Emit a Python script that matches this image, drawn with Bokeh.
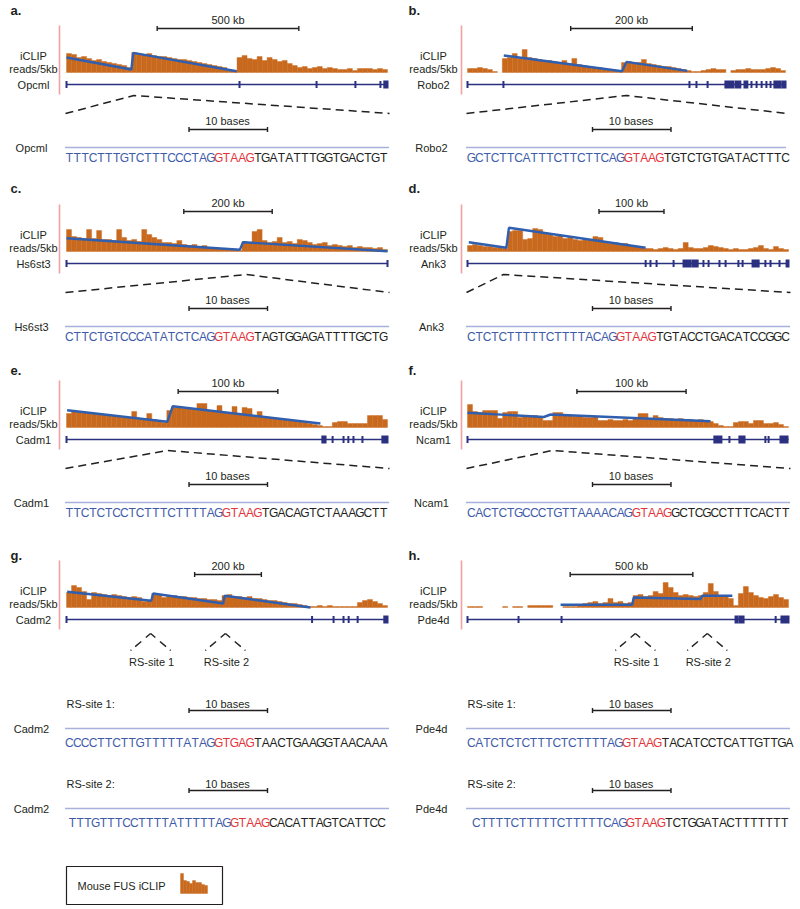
from bokeh.plotting import figure
from bokeh.models import Range1d
from bokeh.embed import file_html
from bokeh.resources import INLINE
from bokeh.core.properties import value

# ---------------- data ----------------
panel_ids = ["a", "b", "c", "d", "e", "f", "g", "h"]
gene_names = ["Opcml", "Robo2", "Hs6st3", "Ank3", "Cadm1", "Ncam1", "Cadm2", "Pde4d"]
span_kb = [1133, 523, 726, 494, 322, 294, 962, 1308]   # genomic span shown in each track
scale_kb = [500, 200, 200, 100, 100, 100, 200, 500]    # scale-bar size

# iCLIP reads/5kb (64 bins across each gene track)
reads_a = [19, 18, 15, 16, 14, 12, 13, 11, 10, 9, 8, 7, 5,
           20, 19, 18, 19, 17, 16, 16, 15, 14, 13, 13, 12, 11, 10, 9, 8, 7, 6, 5, 3, 2,
           15, 17, 14, 13, 16, 12, 15, 13, 11, 12, 9,
           7, 5, 6, 4, 5, 6, 4, 5, 4, 3, 3, 4,
           2, 4, 4, 4, 3, 4, 3]
reads_b = [4, 4, 5, 4, 3, 1, 0,
           14, 15, 19, 14, 23, 15, 14, 13, 12, 12, 11, 10, 12, 9, 14, 8, 7, 6, 5, 5, 4, 3, 2, 1,
           10, 11, 9, 10, 13, 9, 8, 7, 6, 6, 5, 4, 3, 2,
           1, 1, 2, 3, 4, 3, 3, 0, 2, 3, 3, 4, 3, 3, 3, 4, 5, 4, 2]
reads_c = [22, 15, 14, 13, 22, 13, 21, 12, 12, 11, 22, 14, 11, 12, 10, 22, 17, 14, 12, 9,
           9, 8, 11, 7, 6, 7, 5, 6, 4, 4, 3, 3, 2, 2, 1,
           10, 9, 20, 22, 11, 9, 10, 14, 9, 10, 8, 12, 11, 9, 7, 8, 9, 6, 7, 6, 5, 6, 4, 5,
           4, 4, 3, 4, 2]
reads_d = [6, 7, 6, 5, 5, 4, 4, 3,
           20, 21, 21, 12, 13, 23, 22, 19, 17, 15, 16, 13, 14, 12, 11, 13, 12, 15, 14, 10,
           8, 9, 7, 8, 6, 5, 4, 3,
           3, 2, 3, 4, 3, 2, 3, 9, 4, 3, 3, 4, 6, 5, 4, 3, 2, 3, 2, 2, 3, 4, 6, 3, 2, 5, 3, 2]
reads_e = [14, 17, 16, 15, 15, 14, 14, 13, 12, 12, 11, 10, 10, 16, 9, 8, 14, 8, 7, 5, 17,
           20, 20, 19, 19, 19, 24, 24, 17, 16, 22, 15, 14, 21, 14, 20, 19, 12, 16, 11, 10,
           9, 9, 8, 8, 7, 6, 5, 4, 3, 2,
           1, 1, 5, 6, 6, 4, 4, 4, 4, 12, 12, 12, 8]
reads_f = [23, 16, 15, 17, 17, 17, 9, 15, 16, 16, 10, 12, 11, 12, 11, 7, 7, 15, 15, 12,
           12, 11, 12, 10, 10, 11, 7, 7, 8, 7, 7, 8, 7, 9, 14, 14, 9, 12, 10, 9,
           9, 8, 9, 8, 8, 7, 8, 7, 6, 4, 2, 1, 1, 5, 6, 6, 4, 7, 7, 4, 4, 5, 3, 1]
reads_g = [15, 22, 20, 16, 8, 15, 14, 13, 12, 13, 12, 11, 10, 11, 10, 6, 7,
           14, 13, 10, 12, 12, 11, 11, 10, 10, 9, 9, 8, 8, 7,
           12, 13, 11, 11, 10, 11, 9, 9, 8, 7, 7, 6, 5, 4, 4, 3, 2, 1,
           1, 2, 1, 2, 1, 1, 1, 1, 1, 5, 7, 8, 6, 4, 2]
reads_h = [1, 1, 1, 0, 0, 0, 0, 1, 0, 1, 1, 0, 2, 2, 2, 2, 2, 0,
           0, 1, 1, 1, 3,
           4, 5, 6, 4, 5, 9, 5, 6, 4, 5,
           12, 13, 11, 12, 16, 14, 25, 20, 15, 12, 13, 12, 11, 12, 15, 24, 16, 12, 11, 9,
           2,
           14, 21, 15, 12, 10, 9, 11, 13, 10, 8]
reads = [reads_a, reads_b, reads_c, reads_d, reads_e, reads_f, reads_g, reads_h]

# saw-tooth fit (position as fraction of track, reads)
fit_pos = [[0.0, 0.202, 0.208, 0.53],
           [0.114, 0.486, 0.5, 0.691],
           [0.0, 0.54, 0.55, 1.0],
           [0.004, 0.121, 0.129, 0.555],
           [0.002, 0.314, 0.331, 0.791],
           [0.0, 0.238, 0.259, 0.757],
           [0.002, 0.264, 0.27, 0.488, 0.493, 0.76],
           [0.29, 0.513, 0.518, 0.726, 0.731, 0.825]]
fit_reads = [[15, 3, 19.6, 1.3],
             [17, 1.3, 10.6, 1.6],
             [13.3, 1.7, 9.3, 0.3],
             [9.3, 3.7, 23.7, 3.7],
             [17.3, 5.7, 21.3, 4],
             [14.7, 10.5, 13, 6.3],
             [15.7, 6.7, 14, 4, 11.7, 0],
             [2.7, 2.7, 10, 8.5, 11.7, 11.7]]

# exons (start, end) as fraction of track
exons = [
    [(0, 0), (0.539, 0.539), (0.779, 0.779), (0.9, 0.9), (0.978, 0.978), (0.99, 1.0)],
    [(0, 0), (0.113, 0.113), (0.698, 0.698), (0.72, 0.72), (0.755, 0.755), (0.811, 0.836),
     (0.843, 0.858), (0.871, 0.88), (0.893, 0.893), (0.909, 0.909), (0.925, 0.925),
     (0.94, 0.94), (0.953, 0.953), (0.965, 0.984), (0.99, 1.0)],
    [(0, 0), (1, 1)],
    [(0, 0), (0.555, 0.555), (0.57, 0.57), (0.589, 0.589), (0.642, 0.642), (0.673, 0.695),
     (0.701, 0.717), (0.735, 0.735), (0.751, 0.751), (0.785, 0.785), (0.804, 0.804),
     (0.844, 0.844), (0.857, 0.857), (0.888, 0.907), (0.928, 0.928), (0.944, 0.944),
     (0.972, 0.972), (0.994, 1.0)],
    [(0, 0), (0.797, 0.807), (0.829, 0.829), (0.863, 0.863), (0.878, 0.878), (0.894, 0.894),
     (0.922, 0.922), (0.984, 1.0)],
    [(0, 0), (0.769, 0.791), (0.816, 0.816), (0.847, 0.863), (0.928, 0.928), (0.938, 0.938),
     (0.975, 0.997)],
    [(0, 0), (0.765, 0.765), (0.832, 0.832), (0.863, 0.863), (0.879, 0.879), (0.907, 0.907),
     (0.99, 1.0)],
    [(0, 0), (0.159, 0.159), (0.293, 0.293), (0.835, 0.841), (0.847, 0.86), (0.96, 0.96),
     (0.978, 1.0)],
]

# recursive splice sites (fraction of track)
rs_sites = [[0.21], [0.5], [0.56], [0.112], [0.315], [0.264], [0.262, 0.495], [0.523, 0.747]]

# sequences: (upstream intron, RS motif, downstream)
sequences = [
    [("TTTCTTTGTCTTTCCCTAG", "GTAAG", "TGATATTTGGTGACTGT")],
    [("GCTCTTCATTTCTTCTTCAG", "GTAAG", "TGTCTGTGATACTTTC")],
    [("CTTCTGTCCCATATCTCAG", "GTAAG", "TAGTGGAGATTTTGCTG")],
    [("CTCTCTTTTTCTTTTACAG", "GTAAG", "TGTACCTGACATCCGGC")],
    [("TTCTCTCCTCTTTCTTTTAG", "GTAAG", "TGACAGTCTAAAGCTT")],
    [("CACTCTGCCCTGTTAAAACAG", "GTAAG", "GCTCGCCTTTCACTT")],
    [("CCCCTTCTTGTTTTTATAG", "GTGAG", "TAACTGAAGGTAACAAA"),
     ("TTTGTTTCCTTTTATTTTTAG", "GTAAG", "CACATTAGTCATTCC")],
    [("CATCTCTCTTTCTCTTTTAG", "GTAAG", "TACATCCTCATTGTTGA"),
     ("CTTTTCTTTTTCTTTTTCAG", "GTAAG", "TCTGGATACTTTTTTT")],
]

legend_label = "Mouse FUS iCLIP"
legend_reads = [20, 13, 12, 10, 13, 11, 11, 9, 8]

# ---------------- style / layout ----------------
FONT = "Liberation Sans"
INK = "#231f20"
NAVY = "#2b3080"
ORANGE = "#c8691e"
FITBLUE = "#2f5fae"
PINK = "#f2a2a0"
SEQ_BLUE = "#3e5ba9"
SEQ_RED = "#e3343c"
DOTC = "#5360b8"

TRACK_X0 = [66, 467]
TRACK_X1 = [387, 785, 387, 788, 387, 788, 387, 788]
LABEL_CX = [33, 433]
PINK_X = [59, 461]
KB_CX = [227.5, 631]
TENB_X = [188.5, 592]
LETTER_X = [10, 408]
ROW_BASE = [72, 251, 427, 607]
ROW_KB = [28, 211, 391, 574]
ROW_LETTER = [10, 188, 370, 555]
PITCH = 7.85
SEQ_X = [[65], [467], [65], [467], [65], [467], [65, 68], [467, 472]]
SEQ_SPAN = [[322], [322], [322], [322], [322], [322], [322, 317], [326, 316]]

W, H = 800, 908
p = figure(width=W, height=H, x_range=Range1d(0, W), y_range=Range1d(H, 0),
           output_backend="svg", toolbar_location=None, min_border=0,
           x_axis_type=None, y_axis_type=None)
p.outline_line_color = None
p.background_fill_color = "white"
p.border_fill_color = "white"


def text(x, y, s, size=11, align="center", color=INK, bold=False):
    p.text(x=[x], y=[y], text=[s], text_font=value(FONT), text_font_size=f"{size}px",
           text_align=align, text_baseline="middle", text_color=color,
           text_font_style="bold" if bold else "normal")


def scalebar(xl, xr, y):
    p.segment(x0=[xl, xl, xr], y0=[y, y - 2.5, y - 2.5], x1=[xr, xl, xr], y1=[y, y + 2.5, y + 2.5],
              line_color=INK, line_width=1.4)


def sequence(x_start, span, y, up, site, down):
    chars = list(up + site + down)
    pitch = span / len(chars)
    colors = [SEQ_BLUE] * len(up) + [SEQ_RED] * len(site) + [INK] * len(down)
    xs = [x_start + (i + 0.5) * pitch for i in range(len(chars))]
    p.text(x=xs, y=[y] * len(chars), text=chars, text_color=colors, text_font=value(FONT),
           text_font_size="12px", text_align="center", text_baseline="middle")


for k in range(8):
    col = k % 2
    row = k // 2
    x0 = TRACK_X0[col]
    x1 = TRACK_X1[k]
    wpx = x1 - x0
    B = ROW_BASE[row]

    def X(f):
        return x0 + f * wpx

    text(LETTER_X[col], ROW_LETTER[row], panel_ids[k] + ".", size=13, align="left", bold=True)

    L = scale_kb[k] / span_kb[k] * wpx
    cx = KB_CX[col]
    scalebar(cx - L / 2, cx + L / 2, ROW_KB[row])
    text(cx, ROW_KB[row] - 9, f"{scale_kb[k]} kb")

    p.segment(x0=[PINK_X[col]], y0=[B - 47], x1=[PINK_X[col]], y1=[B + 22],
              line_color=PINK, line_width=1.6)

    text(LABEL_CX[col], B - 17, "iCLIP")
    text(LABEL_CX[col], B - 4, "reads/5kb")
    text(LABEL_CX[col], B + 12, gene_names[k])

    r = reads[k]
    n = len(r)
    bw = wpx / n
    idx = [i for i in range(n) if r[i] > 0]
    p.quad(left=[x0 + i * bw for i in idx], right=[x0 + (i + 1) * bw for i in idx],
           top=[B - r[i] for i in idx], bottom=[B] * len(idx),
           fill_color=ORANGE, line_color=ORANGE, line_width=0.4)

    p.line(x=[X(f) for f in fit_pos[k]], y=[B - v for v in fit_reads[k]],
           line_color=FITBLUE, line_width=2.4)

    gy = B + 12
    p.segment(x0=[x0], y0=[gy], x1=[x1], y1=[gy], line_color=NAVY, line_width=1.6)
    ex = exons[k]
    p.quad(left=[X(s) - 1 for s, e in ex], right=[X(e) + 1 for s, e in ex],
           top=[gy - (3.5 if e == s else 4) for s, e in ex],
           bottom=[gy + (3.5 if e == s else 4) for s, e in ex],
           fill_color=NAVY, line_color=None)

    if row < 3:
        pk = X(rs_sites[k][0])
        p.line(x=[x0 - 1, pk, x1 + 2], y=[B + 41, B + 23, B + 41], line_color=INK,
               line_width=1.5, line_dash="8 5")
        text(KB_CX[col] - 0.5, B + 48, "10 bases")
        scalebar(TENB_X[col], TENB_X[col] + 10 * PITCH, B + 57)
        text(LABEL_CX[col] - 2, B + 75, gene_names[k])
        p.line(x=[x0 - 1, x1 + 1], y=[B + 75, B + 75], line_color=DOTC, line_width=1.6,
               line_dash="1 1")
        up, site, down = sequences[k][0]
        sequence(SEQ_X[k][0], SEQ_SPAN[k][0], B + 85, up, site, down)
    else:
        for j, f in enumerate(rs_sites[k]):
            pk = X(f)
            for side in (-1, 1):
                p.line(x=[pk + side * 20, pk], y=[B + 43, B + 26], line_color=INK,
                       line_width=1.4, line_dash="1 5 8 6 12")
            text(pk + 1, B + 54, f"RS-site {j + 1}")
        blocks_y = [703, 783]
        for j in range(2):
            yb = blocks_y[j]
            text(x0, yb, f"RS-site {j + 1}:", align="left")
            text(KB_CX[col] - 0.5, yb, "10 bases")
            scalebar(TENB_X[col], TENB_X[col] + 10 * PITCH, yb + 7)
            text(LABEL_CX[col] - 2, yb + 25, gene_names[k])
            p.line(x=[x0 - 1, x1 + 1], y=[yb + 25, yb + 25], line_color=DOTC, line_width=1.6,
                   line_dash="1 1")
            up, site, down = sequences[k][j]
            sequence(SEQ_X[k][j], SEQ_SPAN[k][j], yb + 39, up, site, down)

# legend
p.quad(left=[66], right=[222], top=[866], bottom=[904], fill_color=None,
       line_color=INK, line_width=1.2)
text(77, 885, legend_label, align="left")
lw = 3
p.quad(left=[180 + i * lw for i in range(len(legend_reads))],
       right=[180 + (i + 1) * lw for i in range(len(legend_reads))],
       top=[893 - v for v in legend_reads], bottom=[893] * len(legend_reads),
       fill_color=ORANGE, line_color=ORANGE, line_width=0.4)

open("out.html", "w").write(file_html(p, INLINE))
